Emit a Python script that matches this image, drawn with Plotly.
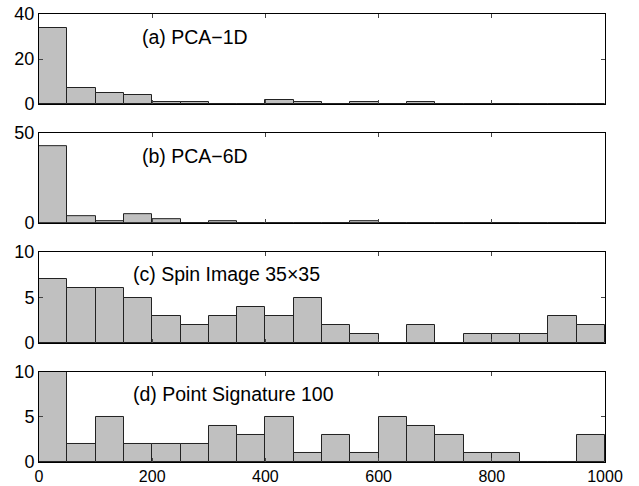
import plotly.graph_objects as go
from plotly.subplots import make_subplots

bin_starts = [0, 50, 100, 150, 200, 250, 300, 350, 400, 450,
              500, 550, 600, 650, 700, 750, 800, 850, 900, 950]
bin_width = 50

counts_a = [34, 7, 5, 4, 1, 1, 0, 0, 2, 1, 0, 1, 0, 1, 0, 0, 0, 0, 0, 0]
counts_b = [43, 4, 1, 5, 2, 0, 1, 0, 0, 0, 0, 1, 0, 0, 0, 0, 0, 0, 0, 0]
counts_c = [7, 6, 6, 5, 3, 2, 3, 4, 3, 5, 2, 1, 0, 2, 0, 1, 1, 1, 3, 2]
counts_d = [10, 2, 5, 2, 2, 2, 4, 3, 5, 1, 3, 1, 5, 4, 3, 1, 1, 0, 0, 3]

labels = ["(a) PCA\u22121D", "(b) PCA\u22126D", "(c) Spin Image 35\u00d735", "(d) Point Signature 100"]
y_ranges = [[0, 40], [0, 50], [0, 10], [0, 10]]
y_ticks = [[0, 20, 40], [0, 50], [0, 5, 10], [0, 5, 10]]
label_pos = [(179, 29.9), (179, 37.4), (162, 7.58), (162, 7.56)]
x_ticks = [0, 200, 400, 600, 800, 1000]

series = [counts_a, counts_b, counts_c, counts_d]
centers = [s + bin_width / 2 for s in bin_starts]

fig = make_subplots(rows=4, cols=1, shared_xaxes=False, vertical_spacing=0.065)
domains = [[0.799, 1.0], [0.5335, 0.734], [0.2656, 0.46875], [0.0, 0.2009]]

font = "Liberation Sans, Arial, Helvetica, sans-serif"
for i, cnt in enumerate(series):
    fig.add_trace(go.Bar(x=centers, y=cnt, width=bin_width,
                         marker=dict(color="#c0c0c0", line=dict(color="#222222", width=1)),
                         showlegend=False), row=i + 1, col=1)
    xa = "xaxis" if i == 0 else f"xaxis{i+1}"
    ya = "yaxis" if i == 0 else f"yaxis{i+1}"
    fig.layout[ya].update(domain=domains[i], range=y_ranges[i], tickvals=y_ticks[i],
                          ticks="inside", ticklen=4, mirror="ticks", showline=True,
                          linecolor="black", linewidth=1, showgrid=False, zeroline=False,
                          automargin=False,
                          tickfont=dict(size=18, color="black", family=font))
    fig.layout[xa].update(range=[0, 1000], tickvals=x_ticks,
                          ticks="inside", ticklen=4, mirror="ticks", showline=True,
                          linecolor="black", linewidth=1, showgrid=False, zeroline=False,
                          showticklabels=(i == 3), automargin=False,
                          tickfont=dict(size=16, color="black", family=font))
    xref = "x" if i == 0 else f"x{i+1}"
    yref = "y" if i == 0 else f"y{i+1}"
    fig.add_annotation(x=label_pos[i][0], y=label_pos[i][1], xref=xref, yref=yref,
                       text=labels[i], showarrow=False, xanchor="left", yanchor="middle",
                       font=dict(size=19.5, color="black", family=font))

fig.update_layout(width=639, height=486, margin=dict(l=39, r=34, t=14, b=24),
                  plot_bgcolor="white", paper_bgcolor="white", bargap=0)
fig.write_html("out.html")
